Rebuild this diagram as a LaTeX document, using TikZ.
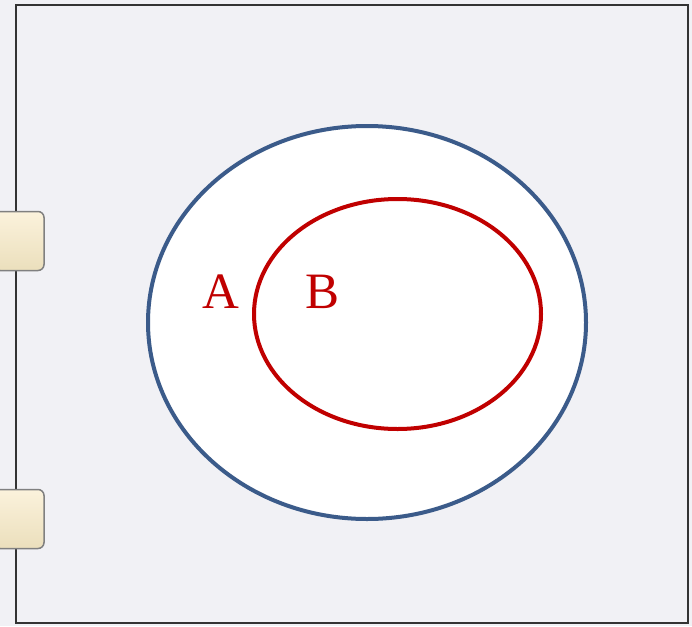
\documentclass[tikz,border=0pt]{standalone}
\usepackage{fontspec}
\setmainfont{Liberation Serif}
\definecolor{bgc}{HTML}{F1F1F5}
\definecolor{bluec}{HTML}{3B5B8A}
\definecolor{redc}{HTML}{C00000}
\definecolor{tabtop}{HTML}{FBF2DC}
\definecolor{tabbot}{HTML}{EBDFBC}
\tikzset{
  tabbox/.style={draw=black!50, line width=1.5pt, rounded corners=6pt, top color=tabtop, bottom color=tabbot},
  setlabel/.style={text=redc, font=\fontsize{51}{51}\selectfont, inner sep=0pt, anchor=base}
}
\begin{document}
\begin{tikzpicture}[x=1pt,y=-1pt]
\useasboundingbox (0,0) rectangle (692,626);
\fill[bgc] (0,0) rectangle (692,626);
\draw[line width=2.6pt, black!80] (16,5) rectangle (688,623);
\node[tabbox, minimum width=50pt, minimum height=59pt, inner sep=0pt] (tab1) at (19,241) {};
\node[tabbox, minimum width=50pt, minimum height=59pt, inner sep=0pt] (tab2) at (19,519) {};
\fill[white] (367,322.5) ellipse [x radius=219, y radius=196.5];
\draw[bluec, line width=4pt] (367,322.5) ellipse [x radius=219, y radius=196.5];
\draw[redc, line width=4pt] (397.5,314) ellipse [x radius=143.5, y radius=115];
\node[setlabel] (A) at (221,308) {A};
\node[setlabel] (B) at (323,308) {B};
\end{tikzpicture}
\end{document}
